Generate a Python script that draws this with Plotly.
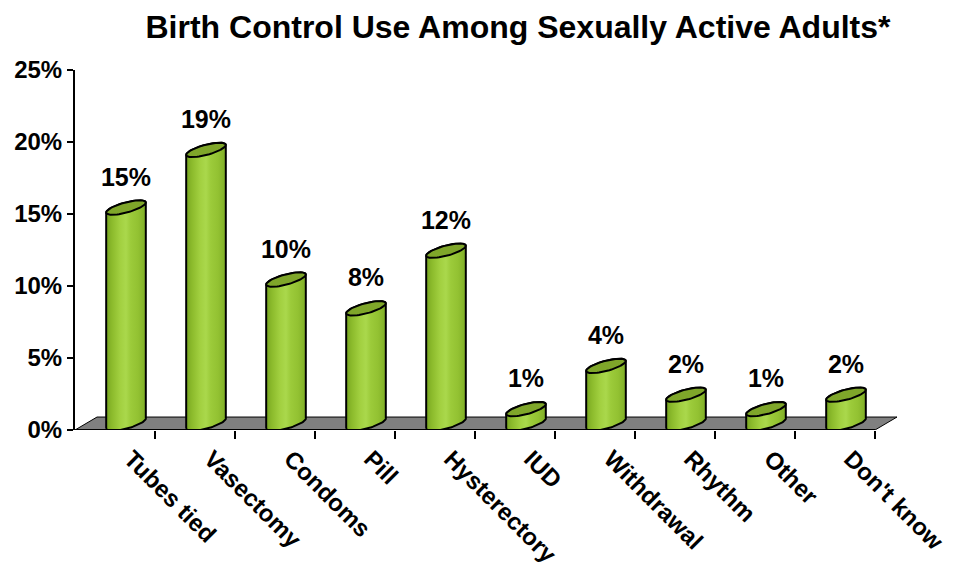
import numpy as np
import plotly.graph_objects as go

categories = ["Tubes tied", "Vasectomy", "Condoms", "Pill", "Hysterectory",
              "IUD", "Withdrawal", "Rhythm", "Other", "Don't know"]
values = [15, 19, 10, 8, 12, 1, 4, 2, 1, 2]
y_ticks = [0, 5, 10, 15, 20, 25]
y_tick_text = ["0%", "5%", "10%", "15%", "20%", "25%"]
title_text = "Birth Control Use Among Sexually Active Adults*"

FONT = "Arial, 'Liberation Sans', sans-serif"

# 3D geometry (data units)
depth_x, depth_y = 0.275, 0.9          # floor depth vector
off_x, off_y = depth_x / 2, depth_y / 2  # cylinder centre inside floor
ea, edx, edy = 0.18, 0.17, 0.5           # ellipse params

fig = go.Figure()

# floor
n = len(categories)
fx = [-0.5, n - 0.5, n - 0.5 + depth_x, -0.5 + depth_x, -0.5]
fy = [0, 0, depth_y, depth_y, 0]
fig.add_trace(go.Scatter(x=fx, y=fy, mode="lines", fill="toself",
                         fillcolor="#808080", line=dict(color="black", width=1),
                         hoverinfo="skip", showlegend=False))

t1 = np.arctan2(edx, ea)
body_scale = [[0, "#78A622"], [0.15, "#8CBB2C"], [0.35, "#A2D040"],
              [0.5, "#AAD84C"], [0.62, "#9CCB3A"], [0.8, "#93C232"],
              [1, "#7FAE26"]]


def ell(cx, cy, t):
    return cx + ea * np.cos(t) + edx * np.sin(t), cy + edy * np.sin(t)


for i, v in enumerate(values):
    cx = i + off_x
    cb = off_y
    ct = v + off_y
    tf = np.linspace(t1 + np.pi, t1 + 2 * np.pi, 40)
    tb = np.linspace(t1, t1 + np.pi, 40)
    bx, by = ell(cx, cb, tf)
    tx, ty = ell(cx, ct, tb)
    px = np.concatenate([bx, tx, bx[:1]])
    py = np.concatenate([by, ty, by[:1]])
    fig.add_trace(go.Scatter(x=px, y=py, mode="lines", fill="toself",
                             fillgradient=dict(type="horizontal", colorscale=body_scale),
                             line=dict(color="black", width=2),
                             hoverinfo="skip", showlegend=False))
    ta = np.linspace(0, 2 * np.pi, 60)
    ex, ey = ell(cx, ct, ta)
    fig.add_trace(go.Scatter(x=ex, y=ey, mode="lines", fill="toself",
                             fillcolor="#7FA62A",
                             line=dict(color="black", width=2),
                             hoverinfo="skip", showlegend=False))

# value labels
fig.add_trace(go.Scatter(
    x=[i + off_x for i in range(n)],
    y=[v + depth_y + 1.5 for v in values],
    mode="text", text=[f"{v}%" for v in values],
    textfont=dict(family=FONT, size=25, color="black", weight="bold"),
    textposition="middle center", cliponaxis=False,
    hoverinfo="skip", showlegend=False))

# x axis line
fig.add_trace(go.Scatter(x=[-0.5, n - 0.5], y=[0, 0], mode="lines",
                         line=dict(color="black", width=2),
                         hoverinfo="skip", showlegend=False))

fig.update_layout(
    width=954, height=580,
    paper_bgcolor="white", plot_bgcolor="white",
    margin=dict(l=67, r=65, t=62, b=158),
    title=dict(text=title_text, x=0.5346, xanchor="center", y=0.967, yanchor="middle",
               font=dict(family=FONT, size=32, color="black", weight="bold")),
    xaxis=dict(range=[-0.5, n - 0.5 + depth_x], showline=False, showgrid=False,
               zeroline=False, automargin=False, tickmode="array",
               tickvals=list(range(n)),
               ticktext=categories, tickangle=45, ticks="",
               ticklabelshift=16, ticklabelstandoff=9,
               tickfont=dict(family=FONT, size=24, color="black", weight="bold"),
               minor=dict(tickmode="array", tickvals=[i + 0.5 for i in range(n)],
                          ticks="outside", ticklen=8, tickwidth=2, tickcolor="black")),
    yaxis=dict(range=[0, 25], showline=True, linecolor="black", linewidth=2,
               showgrid=False, zeroline=False, automargin=False, tickmode="array",
               tickvals=y_ticks, ticktext=y_tick_text, ticks="outside",
               ticklen=6, tickwidth=2, tickcolor="black",
               tickfont=dict(family=FONT, size=24, color="black", weight="bold")),
)

fig.write_html("out.html")
